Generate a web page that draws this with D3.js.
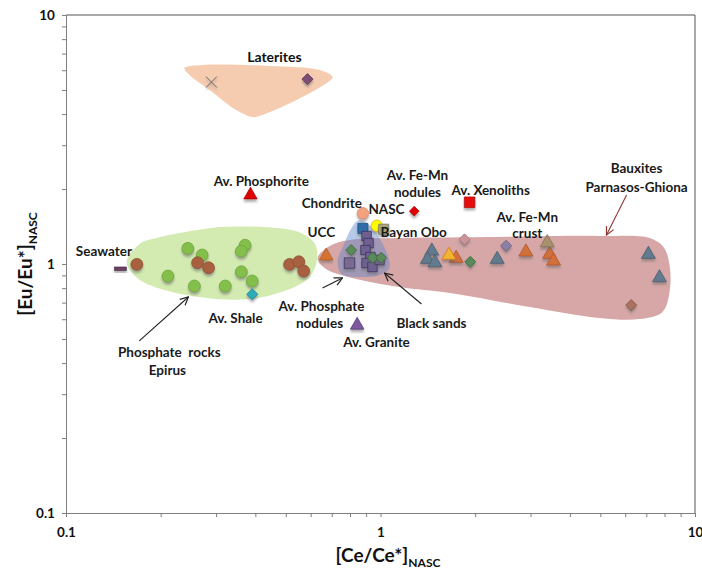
<!DOCTYPE html>
<html>
<head>
<meta charset="utf-8">
<script src="https://cdn.jsdelivr.net/npm/d3@7/dist/d3.min.js"></script>
<style>
  body { margin: 0; background: #fff; }
  text { font-family: Lato, "Open Sans", sans-serif; }
</style>
</head>
<body>
<svg id="chart" width="702" height="570"></svg>
<script>
// ---------------- DATA ----------------
const xTickMajors = [0.1, 1, 10];
const yTickMajors = [0.1, 1, 10];
const xTickLabels = ["0.1", "1", "10"];
const yTickLabels = ["0.1", "1", "10"];

// series points: [Ce/Ce*, Eu/Eu*]
const seawater        = [[0.149, 0.955]];
const phosRocksGreen  = [[0.244,1.156],[0.271,1.087],[0.371,1.19],[0.361,1.127],[0.211,0.895],[0.256,0.816],[0.321,0.816],[0.361,0.931],[0.391,0.855]];
const phosRocksBrown  = [[0.168,0.997],[0.262,1.012],[0.284,0.966],[0.514,0.997],[0.55,1.021],[0.57,0.937]];
const avShale         = [[0.391,0.756]];
const lateritesCross  = [[0.29,5.38]];
const lateritesDiam   = [[0.586,5.53]];
const avPhosphorite   = [[0.386,1.91]];
const chondrite       = [[0.879,1.6]];
const nasc            = [[0.973,1.425]];
const blueSquare      = [[0.879,1.39]];
const bayanObo        = [[1.024,1.38]];
const blackSands      = [[0.903,1.295],[0.916,1.214],[0.896,1.138],[0.929,1.067],[0.903,1.009],[0.943,0.973],[0.993,1.038]];
const avPhosNodules   = [[0.797,1.009]];
const greenDiamonds   = [[0.807,1.138],[0.945,1.06],[1.005,1.06],[1.93,1.021]];
const uccTriangle     = [[0.672,1.087]];
const avGranite       = [[0.843,0.573]];
const feMnNodules     = [[1.28,1.63]];
const xenoliths       = [[1.92,1.77]];
const slateTriangles  = [[1.456,1.138],[1.41,1.054],[1.49,1.021],[2.35,1.054],[7.11,1.104],[7.71,0.889]];
const orangeTriangles = [[1.74,1.064],[2.90,1.128],[3.45,1.104],[3.55,1.038]];
const yellowTriangle  = [[1.65,1.094]];
const tanTriangle     = [[3.39,1.229]];
const pinkDiamond     = [[1.85,1.256]];
const purpleDiamond   = [[2.51,1.184]];
const brownDiamond    = [[6.27,0.684]];

// field outlines (data units)
const lateriteField = [[0.238,6.12],[0.272,6.30],[0.444,6.24],[0.640,6.01],[0.704,5.64],[0.674,5.33],[0.541,4.56],[0.421,3.97],[0.392,3.89],[0.348,4.15],[0.286,5.0],[0.247,5.74]];
const phosRockField = [[0.156,1.02],[0.171,1.2],[0.198,1.28],[0.252,1.36],[0.324,1.41],[0.45,1.40],[0.56,1.33],[0.62,1.2],[0.625,1.0],[0.58,0.86],[0.45,0.75],[0.36,0.72],[0.28,0.73],[0.21,0.78],[0.17,0.87]];
const bauxiteField  = [[0.631,1.057],[0.689,1.181],[0.797,1.249],[1.149,1.272],[2.39,1.284],[4.97,1.296],[7.17,1.272],[7.94,1.17],[8.3,0.991],[8.3,0.772],[7.88,0.642],[6.66,0.601],[4.97,0.607],[2.98,0.672],[1.66,0.765],[1.149,0.808],[0.768,0.895],[0.664,0.964]];
const blackSandField = [[0.845,1.488],[0.896,1.474],[0.978,1.308],[1.053,1.087],[1.068,0.964],[0.993,0.903],[0.857,0.887],[0.751,0.912],[0.730,1.019],[0.763,1.192],[0.809,1.395]];

// arrows: [tail, head]
const arrows = [
  {from:[0.171,0.491], to:[0.245,0.737], color:"#222"},
  {from:[0.654,0.801], to:[0.757,0.879], color:"#222"},
  {from:[1.35,0.691],  to:[1.03,0.92],   color:"#222"},
  {from:[6.06,1.892],  to:[5.23,1.308],  color:"#943634"}
];

// labels: [text, x, y]
const labels = [
  ["Av. Phosphorite",0.418,2.15],["Seawater",0.132,1.128],["Av. Shale",0.346,0.607],
  ["Phosphate  rocks",0.213,0.443],["Epirus",0.21,0.375],["UCC",0.649,1.345],
  ["Chondrite",0.70,1.758],["NASC",1.045,1.663],["Bayan Obo",1.275,1.345],
  ["Av. Fe-Mn",1.311,2.28],["nodules",1.311,1.946],["Av. Xenoliths",2.24,1.982],
  ["Av. Phosphate",0.649,0.678],["nodules",0.64,0.579],["Black sands",1.453,0.579],
  ["Av. Granite",0.971,0.486],["Av. Fe-Mn",2.93,1.544],["crust",2.93,1.332],
  ["Bauxites",6.52,2.43],["Parnasos-Ghiona",6.52,2.04]
];
const serifLabels = [["Laterites",0.46,6.78]];

// ---------------- CHART ----------------
const W = 702, H = 570;
const m = {left: 66, right: 7, top: 15, bottom: 57};
const svg = d3.select("#chart");
const x = d3.scaleLog().domain([0.1, 10]).range([m.left, W - m.right]);
const y = d3.scaleLog().domain([0.1, 10]).range([H - m.bottom, m.top]);

const defs = svg.append("defs");
const f = defs.append("filter").attr("id","shadow").attr("x","-50%").attr("y","-50%").attr("width","200%").attr("height","200%");
f.append("feDropShadow").attr("dx",0).attr("dy",2.5).attr("stdDeviation",0.9).attr("flood-color","#666").attr("flood-opacity",0.55);
["#222","#943634"].forEach((c,i) => {
  defs.append("marker").attr("id","arr"+i).attr("viewBox","0 0 10 10").attr("refX",9).attr("refY",5)
    .attr("markerWidth",10).attr("markerHeight",10).attr("orient","auto").attr("markerUnits","userSpaceOnUse")
    .append("path").attr("d","M1,1 L9,5 L1,9").attr("fill","none").attr("stroke",c).attr("stroke-width",1.2);
});

// fields
const area = d3.line().x(d => x(d[0])).y(d => y(d[1])).curve(d3.curveCatmullRomClosed.alpha(0.5));
svg.append("path").attr("d", area(lateriteField)).attr("fill", "#F6CCB0");
svg.append("path").attr("d", area(phosRockField)).attr("fill", "#D3EBB0");
svg.append("path").attr("d", area(bauxiteField)).attr("fill", "#D7A7A7");
svg.append("path").attr("d", area(blackSandField)).attr("fill", "rgba(95,135,205,0.45)");

// axes
const allTicks = [];
[0.1, 1].forEach(b => { for (let k = 1; k <= 9; k++) allTicks.push(+(b*k).toPrecision(3)); });
allTicks.push(10);
const fmt = (lbls, majors) => d => { const i = majors.indexOf(d); return i >= 0 ? lbls[i] : ""; };

const xAxis = svg.append("g").attr("transform", `translate(0,${H - m.bottom})`)
  .call(d3.axisBottom(x).tickValues(allTicks).tickFormat(fmt(xTickLabels, xTickMajors)).tickSize(4).tickSizeOuter(0));
const yAxis = svg.append("g").attr("transform", `translate(${m.left},0)`)
  .call(d3.axisLeft(y).tickValues(allTicks).tickFormat(fmt(yTickLabels, yTickMajors)).tickSize(4).tickSizeOuter(0));
[xAxis, yAxis].forEach(g => {
  g.selectAll("path.domain").attr("stroke", "#7f7f7f");
  g.selectAll(".tick line").attr("stroke", "#7f7f7f");
  g.selectAll(".tick text").attr("font-family","Lato, sans-serif").attr("font-weight","bold").attr("font-size",13.5).attr("fill","#111");
});
xAxis.selectAll(".tick text").attr("dy","1.25em");
yAxis.selectAll(".tick text").attr("dx","-0.3em");
// top & right frame
svg.append("line").attr("x1", m.left).attr("x2", W - m.right).attr("y1", m.top).attr("y2", m.top).attr("stroke","#555");
svg.append("line").attr("x1", W - m.right).attr("x2", W - m.right).attr("y1", m.top).attr("y2", H - m.bottom).attr("stroke","#555");

// axis titles
const xt = svg.append("text").attr("x", 388).attr("y", 562).attr("text-anchor","middle")
  .attr("font-weight","bold").attr("font-size",19).attr("fill","#111");
xt.append("tspan").text("[Ce/Ce*]");
xt.append("tspan").text("NASC").attr("font-size",12).attr("dy",5);
const yt = svg.append("text").attr("transform", `translate(32,${(m.top + H - m.bottom)/2}) rotate(-90)`).attr("text-anchor","middle")
  .attr("font-weight","bold").attr("font-size",19).attr("fill","#111");
yt.append("tspan").text("[Eu/Eu*]");
yt.append("tspan").text("NASC").attr("font-size",12).attr("dy",5);

// arrows
arrows.forEach(a => {
  svg.append("line").attr("x1", x(a.from[0])).attr("y1", y(a.from[1])).attr("x2", x(a.to[0])).attr("y2", y(a.to[1]))
    .attr("stroke", a.color).attr("stroke-width", 1.1).attr("marker-end", `url(#arr${a.color === "#222" ? 0 : 1})`);
});

// markers
const pts = svg.append("g");
function plot(data, type, fill, stroke, size) {
  const sym = {circle: d3.symbolCircle, triangle: d3.symbolTriangle, square: d3.symbolSquare, diamond: d3.symbolSquare}[type];
  const g = pts.append("g").attr("filter","url(#shadow)");
  if (type === "dash") {
    g.selectAll("rect").data(data).join("rect")
      .attr("x", d => x(d[0]) - 6).attr("y", d => y(d[1]) - 2).attr("width", 12).attr("height", 3.5)
      .attr("fill", fill).attr("stroke", stroke).attr("stroke-width", 0.6);
    return;
  }
  if (type === "x") {
    const r = size;
    g.selectAll("path").data(data).join("path")
      .attr("d", `M${-r},${-r}L${r},${r}M${-r},${r}L${r},${-r}`)
      .attr("transform", d => `translate(${x(d[0])},${y(d[1])})`)
      .attr("fill","none").attr("stroke", stroke).attr("stroke-width", 1);
    return;
  }
  g.selectAll("path").data(data).join("path")
    .attr("d", d3.symbol(sym, size)())
    .attr("transform", d => `translate(${x(d[0])},${y(d[1]) + (type === "triangle" ? 1 : 0)})${type === "diamond" ? " rotate(45)" : ""}`)
    .attr("fill", fill).attr("stroke", stroke).attr("stroke-width", 0.8);
}

plot(seawater, "dash", "#6B3F63", "#4a2a44");
plot(phosRocksGreen, "circle", "#84BF4B", "#6EA53A", 110);
plot(phosRocksBrown, "circle", "#A8613F", "#8E4E30", 110);
plot(avShale, "diamond", "#2FAAB8", "#1E8A98", 62);
plot(lateritesCross, "x", "none", "#666", 5.5);
plot(lateritesDiam, "diamond", "#7D4E74", "#5E3957", 62);
plot(avPhosphorite, "triangle", "#E00000", "#B00000", 78);
plot(chondrite, "circle", "#F4A27E", "#E08A66", 100);
plot(nasc, "circle", "#FFFF00", "#E2B200", 100);
plot(blueSquare, "square", "#2F6EA8", "#1F4E7A", 100);
plot(bayanObo, "square", "#A6A27C", "#7E7A58", 100);
plot(avPhosNodules, "square", "#7A6A92", "#3F3560", 110);
plot(blackSands, "square", "#6F6190", "#3A3160", 90);
plot(greenDiamonds, "diamond", "#5A8A5A", "#3E6A40", 60);
plot(uccTriangle, "triangle", "#D6732F", "#B55A20", 80);
plot(avGranite, "triangle", "#7B5A9E", "#5A3E7A", 80);
plot(feMnNodules, "diamond", "#E00000", "#B00000", 46);
plot(xenoliths, "square", "#E81010", "#B00000", 110);
plot(slateTriangles, "triangle", "#627A8D", "#4A5F70", 85);
plot(orangeTriangles, "triangle", "#D2703A", "#B0552A", 85);
plot(yellowTriangle, "triangle", "#F2B42E", "#D0781E", 85);
plot(tanTriangle, "triangle", "#A8926E", "#86704F", 85);
plot(pinkDiamond, "diamond", "#C9959B", "#A8787E", 60);
plot(purpleDiamond, "diamond", "#8E7FA6", "#6E5F88", 60);
plot(brownDiamond, "diamond", "#A9735F", "#875644", 60);

// labels
svg.append("g").selectAll("text").data(labels).join("text")
  .attr("x", d => x(d[1])).attr("y", d => y(d[2])).attr("dy","0.35em").attr("text-anchor","middle")
  .attr("font-weight","bold").attr("font-size",13.5).attr("fill","#1a1a1a").text(d => d[0])
  .style("white-space","pre");
svg.append("g").selectAll("text").data(serifLabels).join("text")
  .attr("x", d => x(d[1])).attr("y", d => y(d[2])).attr("dy","0.35em").attr("text-anchor","middle")
  .attr("font-family","'Liberation Serif', serif").attr("font-weight","bold").attr("font-size",14).attr("fill","#111").text(d => d[0]);
</script>
</body>
</html>
